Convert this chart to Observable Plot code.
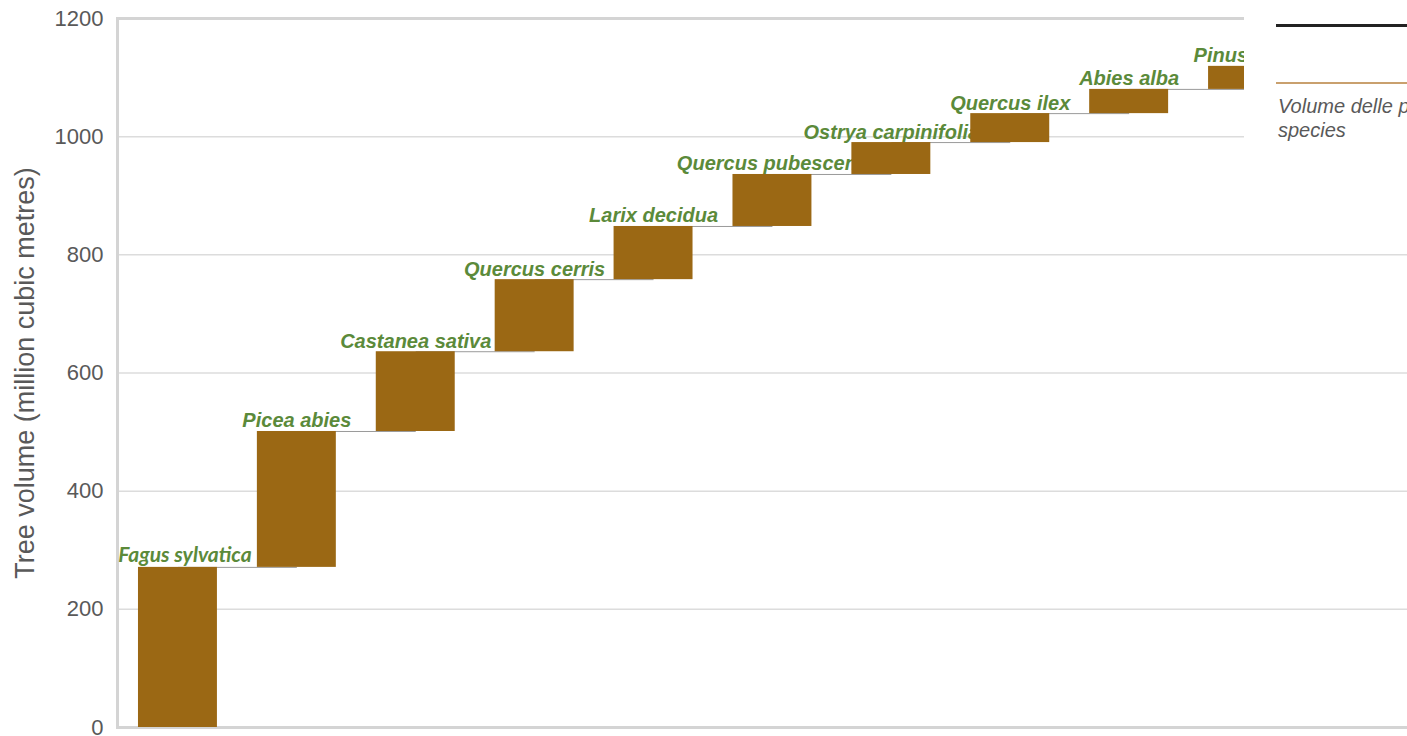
<!DOCTYPE html>
<html>
<head>
<meta charset="utf-8">
<script src="https://cdn.jsdelivr.net/npm/d3@7"></script>
<script src="https://cdn.jsdelivr.net/npm/@observablehq/plot@0.6"></script>
<style>
  html, body { margin: 0; padding: 0; background: #fff; overflow: hidden; }
  #wrap { position: relative; width: 1407px; height: 736px; }
  #legend { position: absolute; left: 1244px; top: 0; width: 163px; height: 148px; background: #fff; overflow: hidden;
            font-family: "Liberation Sans", Arial, sans-serif; }
  #legend .sw { position: absolute; left: 32px; width: 200px; }
  #legend .txt { position: absolute; left: 34px; top: 94px; font-size: 20px; line-height: 24px; font-style: italic;
                 color: #595959; white-space: nowrap; }
</style>
</head>
<body>
<div id="wrap"></div>
<script>
// Species (waterfall order) and their tree volume (million m³)
const species = ["Fagus sylvatica", "Picea abies", "Castanea sativa", "Quercus cerris", "Larix decidua",
                 "Quercus pubescens", "Ostrya carpinifolia", "Quercus ilex", "Abies alba", "Pinus nigra"];
const volumes = [271, 230, 135, 122, 90, 88, 54, 49, 41, 39];
const yTicks = [0, 200, 400, 600, 800, 1000, 1200];
const gridValues = [200, 400, 600, 800, 1000];
const frameValues = [0, 1200];
const yTitle = "Tree volume (million cubic metres)";
const legendLines = ["Volume delle principali", "species"];

const cum = d3.cumsum(volumes);
const data = species.map((s, i) => ({species: s, start: i ? cum[i - 1] : 0, end: cum[i]}));
const links = data.slice(0, -1).map((d, i) => ({from: d.species, to: data[i + 1].species, y: d.end}));

const barColor = "#9b6814";
const labelColor = "#5b8a3a";

const chart = Plot.plot({
  width: 1407,
  height: 736,
  marginLeft: 117,
  marginRight: 0,
  marginTop: 18,
  marginBottom: 9,
  style: {background: "#fff", color: "#595959", fontFamily: "'Liberation Sans', Arial, sans-serif"},
  x: {domain: species, range: [118, 1307], paddingInner: 0.336, paddingOuter: 0.168, round: false, axis: null},
  y: {domain: [0, 1200], axis: null},
  marks: [
    Plot.ruleY(gridValues, {stroke: "#dcdcdc", strokeWidth: 1.5}),
    Plot.ruleY(frameValues, {stroke: "#d4d4d4", strokeWidth: 3}),
    Plot.frame({anchor: "left", stroke: "#d4d4d4", strokeWidth: 3}),
    Plot.axisY({ticks: yTicks, tickFormat: d => String(d), tickSize: 0, tickPadding: 14, fontSize: 22, label: null}),
    Plot.text([yTitle], {frameAnchor: "left", text: d => d, rotate: -90, dx: -92, fontSize: 27,
                         fill: "#595959", textAnchor: "middle", lineAnchor: "middle"}),
    Plot.link(links, {x1: "from", x2: "to", y1: "y", y2: "y", stroke: "#9a9a9a", strokeWidth: 1}),
    Plot.text(data.slice(1), {x: "species", y: "end", text: "species", dy: -4, lineAnchor: "bottom",
                              fill: labelColor, fontSize: 20, fontWeight: "bold", fontStyle: "italic"}),
    Plot.text(data.slice(0, 1), {x: "species", y: "end", text: "species", dy: -5, dx: 7, lineAnchor: "bottom",
                              fill: labelColor, fontSize: 21, fontWeight: "bold", fontStyle: "italic",
                              fontFamily: "Lato, 'Open Sans', sans-serif"}),
    Plot.barY(data, {x: "species", y1: "start", y2: "end", fill: barColor})
  ]
});

const wrap = document.getElementById("wrap");
wrap.appendChild(chart);

const legend = document.createElement("div");
legend.id = "legend";
legend.innerHTML =
  `<div class="sw" style="top:24px;border-top:3px solid #222;"></div>` +
  `<div class="sw" style="top:82px;border-top:2px solid #c9a06e;"></div>` +
  `<div class="txt">${legendLines.join("<br>")}</div>`;
wrap.appendChild(legend);
</script>
</body>
</html>
